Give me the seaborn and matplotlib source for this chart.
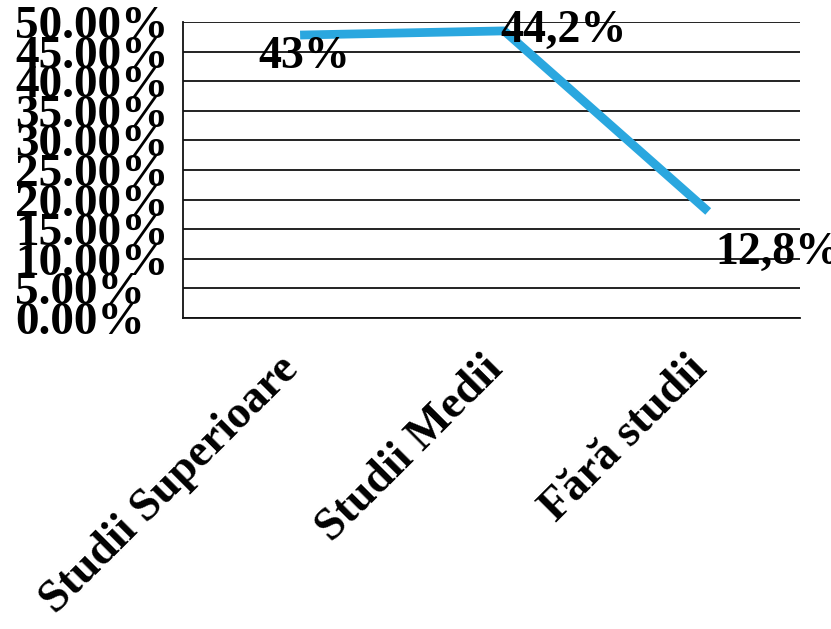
import matplotlib
matplotlib.use("Agg")
import matplotlib.pyplot as plt
import seaborn as sns
import pandas as pd
import numpy as np

# categorii si valori
categorii = ["Studii Superioare", "Studii Medii", "Fără studii"]
valori = [47.8, 48.5, 18.0]
etichete = ["43%", "44,2%", "12,8%"]
y_ticks = list(range(0, 55, 5))


def main():
    sns.set_theme(style="white")
    plt.rcParams["font.family"] = ["Liberation Serif", "DejaVu Serif"]
    plt.rcParams["font.weight"] = "bold"
    plt.rcParams["text.color"] = "black"
    plt.rcParams["xtick.color"] = "black"
    plt.rcParams["ytick.color"] = "black"

    df = pd.DataFrame({"categorie": categorii, "valoare": valori})

    fig = plt.figure(figsize=(8.31, 6.29), dpi=100)
    ax = fig.add_axes([0.2202, 0.4944, 0.7425, 0.4706])

    sns.lineplot(data=df, x="categorie", y="valoare", ax=ax, color="#2AA7DF",
                 linewidth=6.3, sort=False)
    for line in ax.lines:
        line.set_solid_capstyle("butt")

    ax.set_xlim(-0.574, 2.45)
    ax.set_ylim(0, 50)
    ax.set_yticks(y_ticks)
    ax.set_yticklabels([f"{v:.2f}%" for v in y_ticks], fontsize=34, fontweight="bold")
    for lab in ax.get_yticklabels():
        lab.set_horizontalalignment("left")
    ax.tick_params(axis="y", length=0, pad=121, labelcolor="black")

    ax.set_xticks(range(len(categorii)))
    ax.set_xticklabels(categorii, fontsize=33, fontweight="bold", rotation=45,
                       ha="right", va="baseline", rotation_mode="anchor")
    ax.tick_params(axis="x", length=0, pad=38, labelcolor="black")
    ax.set_xlabel("")
    ax.set_ylabel("")

    ax.yaxis.grid(True, color="#111111", linewidth=1.3)
    ax.xaxis.grid(False)
    for s in ["top", "right"]:
        ax.spines[s].set_visible(False)
    for s in ["left", "bottom"]:
        ax.spines[s].set_color("#111111")
        ax.spines[s].set_linewidth(1.3)

    # etichete de date
    offsets = [(3, -1), (-3, 0), (5, -15)]
    aliniere = [("center", "top"), ("left", "center"), ("left", "top")]
    for i, (txt, v) in enumerate(zip(etichete, valori)):
        ax.annotate(txt, xy=(i, v), xytext=offsets[i], textcoords="offset points",
                    ha=aliniere[i][0], va=aliniere[i][1], fontsize=33,
                    fontweight="bold", color="black", annotation_clip=False)

    fig.savefig("out.png", dpi=100, facecolor="white")


if __name__ == "__main__":
    main()
